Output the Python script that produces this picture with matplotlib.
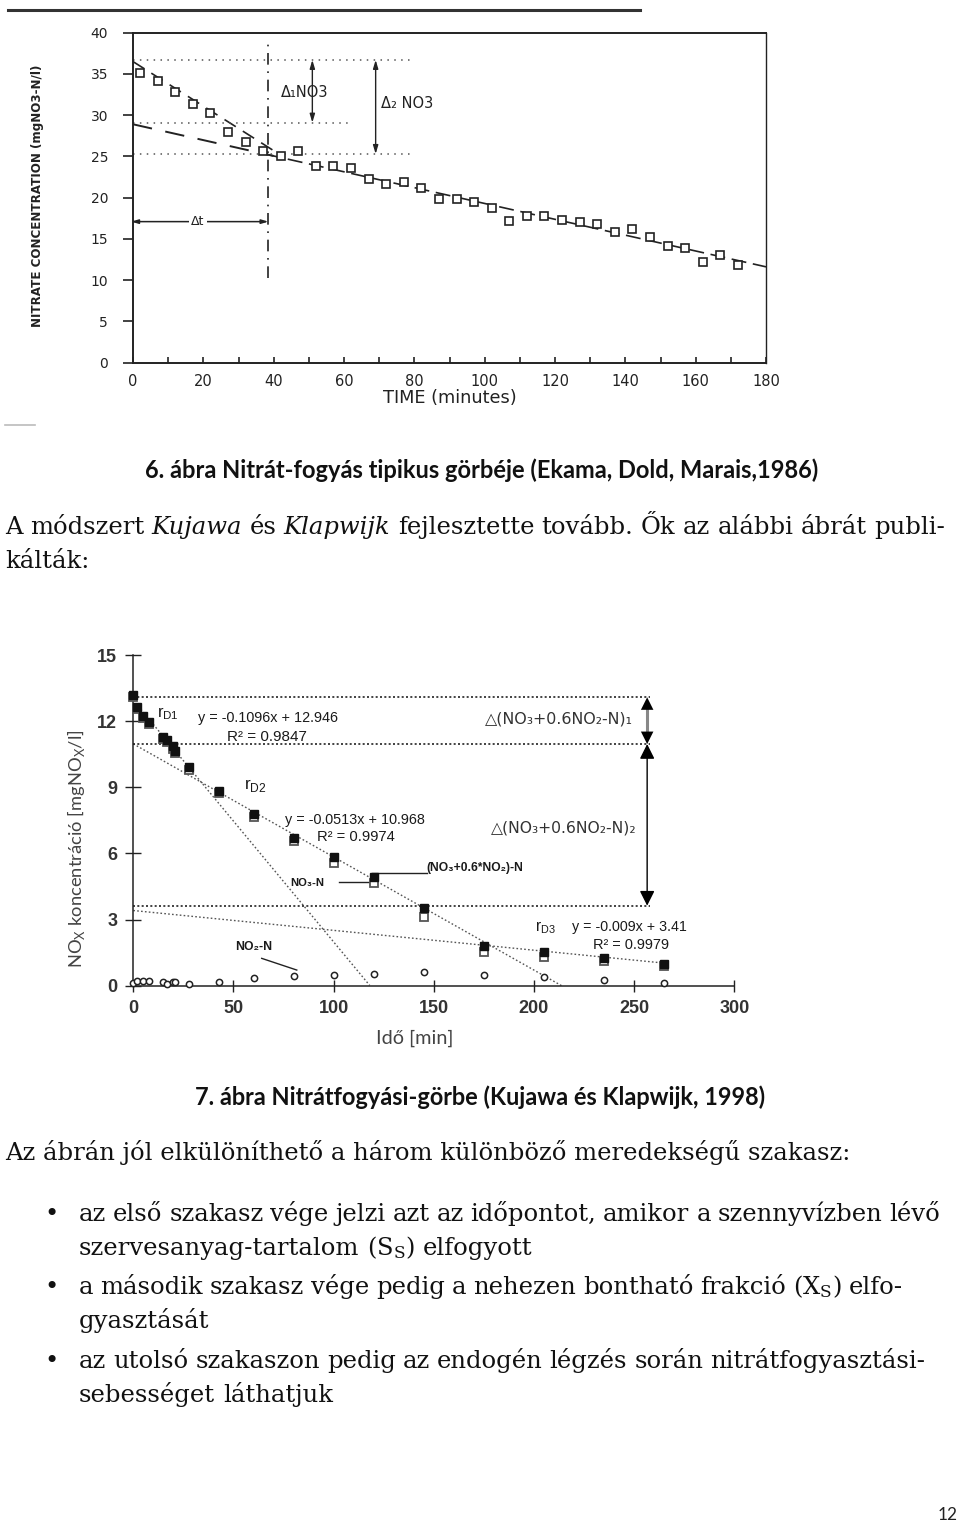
import matplotlib
matplotlib.use('Agg')
import matplotlib.pyplot as plt
import numpy as np
from matplotlib.lines import Line2D

# ---------------- data: figure 6 (Ekama, Dold, Marais 1986) ----------------
time6 = [2, 7, 12, 17, 22, 27, 32, 37, 42, 47, 52, 57, 62, 67, 72, 77, 82, 87, 92, 97,
         102, 107, 112, 117, 122, 127, 132, 137, 142, 147, 152, 157, 162, 167, 172]
nitrate6 = [35.1, 34.1, 32.8, 31.3, 30.3, 28.0, 26.8, 25.6, 25.1, 25.6, 23.9, 23.9, 23.6,
            22.3, 21.7, 21.9, 21.2, 19.8, 19.9, 19.5, 18.8, 17.2, 17.8, 17.8, 17.3, 17.0,
            16.8, 15.8, 16.2, 15.2, 14.2, 13.9, 12.2, 13.0, 11.8]
fit6_intercept = [36.5, 28.9]
fit6_slope = [-0.27, -0.096]
ref6_levels = [36.7, 29.1, 25.3]
ref6_ends = [79, 61, 79]
delta6_t = 38.5
yticks6 = [0, 5, 10, 15, 20, 25, 30, 35, 40]
xticks6 = [0, 20, 40, 60, 80, 100, 120, 140, 160, 180]

# ---------------- data: figure 7 (Kujawa & Klapwijk 1998) ----------------
time7 = [0, 2, 5, 8, 15, 17, 20, 21, 28, 43, 60, 80, 100, 120, 145, 175, 205, 235, 265]
nox7 = [13.2, 12.65, 12.25, 11.95, 11.3, 11.15, 10.85, 10.65, 9.9, 8.85, 7.8, 6.7, 5.82,
        4.95, 3.52, 1.8, 1.55, 1.25, 0.97]          # (NO3+0.6*NO2)-N
no3_7 = [13.1, 12.55, 12.15, 11.85, 11.2, 11.05, 10.75, 10.55, 9.8, 8.75, 7.65, 6.55, 5.55,
         4.64, 3.13, 1.54, 1.32, 1.1, 0.9]          # NO3-N
no2_7 = [0.14, 0.22, 0.22, 0.22, 0.18, 0.08, 0.17, 0.17, 0.08, 0.15, 0.36, 0.44, 0.48,
         0.53, 0.6, 0.48, 0.38, 0.26, 0.14]          # NO2-N
fit7_slope = [-0.1096, -0.0513, -0.009]
fit7_intercept = [12.946, 10.968, 3.41]
fit7_end = [118, 214, 265]
ref7_levels = [13.08, 10.96, 3.63]
yticks7 = [0, 3, 6, 9, 12, 15]
xticks7 = [0, 50, 100, 150, 200, 250, 300]

W, H = 960, 1524
fig = plt.figure(figsize=(W / 100, H / 100), dpi=100)
fig.patch.set_facecolor('white')
R = fig.canvas.get_renderer()
SERIF = 'DejaVu Serif'
SANS = ['Liberation Sans', 'DejaVu Sans']


def fx(x):
    return x / W


def fy(y):
    return 1 - y / H


def fit(x, y, s, length, base=10, **kw):
    kw.setdefault('ha', 'left')
    kw.setdefault('va', 'center')
    t = fig.text(fx(x), fy(y), s, fontsize=base, **kw)
    bb = t.get_window_extent(renderer=R)
    L = bb.height if kw.get('rotation', 0) == 90 else bb.width
    t.set_fontsize(base * length / L)
    return t


def axpos(x0, x1, ytop, ybot):
    return [fx(x0), fy(ybot), (x1 - x0) / W, (ybot - ytop) / H]


# ======================= FIGURE 6 =======================
ink = '#222222'
ax1 = fig.add_axes(axpos(133, 766, 32.7, 362.7))
ax1.set_xlim(0, 180)
ax1.set_ylim(0, 40)
for sp in ax1.spines.values():
    sp.set_color(ink)
    sp.set_linewidth(1.4)
ax1.spines['right'].set_linewidth(1.0)
ax1.spines['right'].set_linestyle((0, (4, 1)))
ax1.set_yticks(yticks6)
ax1.set_xticks(xticks6)
ax1.set_xticks([10, 30, 50, 70, 90, 110, 130, 150, 170], minor=True)
ax1.tick_params(axis='y', direction='out', length=7, width=1.2, pad=11,
                labelsize=10, colors=ink)
ax1.tick_params(axis='x', which='both', direction='in', length=4, width=1.2, pad=8,
                labelsize=10.5, colors=ink)

ax1.plot(time6, nitrate6, linestyle='none', marker='s', ms=5.5, mfc='white',
         mec=ink, mew=1.2, zorder=3)
xa = np.array([0, 42])
ax1.plot(xa, fit6_intercept[0] + fit6_slope[0] * xa, color=ink, lw=1.2,
         dashes=(8, 5), zorder=2)
xb = np.array([38, 180])
ax1.plot(xb, fit6_intercept[1] + fit6_slope[1] * xb, color=ink, lw=1.2,
         dashes=(9, 4), zorder=2)
xc = np.array([0, 40])
ax1.plot(xc, fit6_intercept[1] + fit6_slope[1] * xc, color=ink, lw=1.4,
         dashes=(10, 7), zorder=2)
for lev, end in zip(ref6_levels, ref6_ends):
    ax1.plot([0, end], [lev, lev], color='#555555', lw=1.1, dashes=(1, 3.5))
ax1.plot([delta6_t, delta6_t], [10.3, 38.8], color=ink, lw=1.2, dashes=(7, 4, 1, 4))
# delta arrows
ax1.annotate('', xy=(51, ref6_levels[1]), xytext=(51, ref6_levels[0]),
             arrowprops=dict(arrowstyle='<|-|>,head_length=0.5,head_width=0.15',
                             color=ink, lw=1.0, shrinkA=0, shrinkB=0))
ax1.annotate('', xy=(69, ref6_levels[2]), xytext=(69, ref6_levels[0]),
             arrowprops=dict(arrowstyle='<|-|>,head_length=0.5,head_width=0.15',
                             color=ink, lw=1.0, shrinkA=0, shrinkB=0))
ax1.annotate('', xy=(delta6_t, 17.1), xytext=(-0.5, 17.1),
             arrowprops=dict(arrowstyle='<|-|>,head_length=0.4,head_width=0.12',
                             color=ink, lw=1.1, shrinkA=0, shrinkB=0))
ax1.text(18.5, 17.1, 'Δt', ha='center', va='center', fontsize=9, color=ink,
         bbox=dict(facecolor='white', edgecolor='none', pad=1.5))
ax1.text(42, 32.8, 'Δ₁NO3', ha='left', va='center', fontsize=10.5, color=ink)
ax1.text(70.5, 31.4, 'Δ₂ NO3', ha='left', va='center', fontsize=10.5, color=ink)

fit(38, 196, 'NITRATE CONCENTRATION (mgNO3-N/l)', 262, base=9, rotation=90,
    ha='center', va='center', color=ink, family='DejaVu Sans', fontweight='bold')
fit(383, 398, 'TIME (minutes)', 134, base=9, color=ink, family='DejaVu Sans')

# page scan edges
fig.add_artist(Line2D([fx(8), fx(640)], [fy(10), fy(10)], color='#333333', lw=2.2))
fig.add_artist(Line2D([fx(5), fx(35)], [fy(425), fy(425)], color='#bbbbbb', lw=1.2))

# ======================= captions & body text =======================
fit(145, 470, '6. ábra Nitrát-fogyás tipikus görbéje (Ekama, Dold, Marais,1986)', 675,
    base=15, family='Lato', fontweight='bold', color='#111111')
fit(195, 1097, '7. ábra Nitrátfogyási-görbe (Kujawa és Klapwijk, 1998)', 573,
    base=15, family='Lato', fontweight='bold', color='#111111')

tb = fit(5, 1160, 'Az ábrán jól elkülöníthető a három különböző meredekségű szakasz:', 847,
         base=15, family=SERIF, va='baseline', color='#111111')
FS = tb.get_fontsize()


def measure(s, style='normal'):
    t = fig.text(0, 0, s, fontsize=FS, family=SERIF, fontstyle=style,
                 math_fontfamily='dejavuserif')
    w = t.get_window_extent(renderer=R).width
    t.remove()
    return w


SPACE = measure('n n') - measure('nn')


def words_line(x0, yb, segs, x1=None):
    words = []
    for s, st in segs:
        for w in s.split(' '):
            if w:
                words.append((w, st))
    arts, ws = [], []
    for w, st in words:
        t = fig.text(0, fy(yb), w, fontsize=FS, family=SERIF, fontstyle=st,
                     ha='left', va='baseline', color='#111111',
                     math_fontfamily='dejavuserif')
        arts.append(t)
        ws.append(t.get_window_extent(renderer=R).width)
    gap = SPACE if x1 is None else (x1 - x0 - sum(ws)) / (len(ws) - 1)
    x = x0
    for t, w in zip(arts, ws):
        t.set_x(fx(x))
        x += w + gap


words_line(5, 534, [('A módszert', 'normal'), ('Kujawa', 'italic'), ('és', 'normal'),
                    ('Klapwijk', 'italic'),
                    ('fejlesztette tovább. Ők az alábbi ábrát publi-', 'normal')], 945)
words_line(5, 568, [('kálták:', 'normal')])

bullet_lines = [
    (1221, 'az első szakasz vége jelzi azt az időpontot, amikor a szennyvízben lévő', 940, True),
    (1255, r'szervesanyag-tartalom (S$_\mathrm{S}$) elfogyott', None, False),
    (1294, r'a második szakasz vége pedig a nehezen bontható frakció (X$_\mathrm{S}$) elfo-', 903, True),
    (1328, 'gyasztását', None, False),
    (1368, 'az utolsó szakaszon pedig az endogén légzés során nitrátfogyasztási-', 925, True),
    (1402, 'sebességet láthatjuk', None, False),
]
for yb, s, x1, bul in bullet_lines:
    words_line(79, yb, [(s, 'normal')], x1)
    if bul:
        fig.text(fx(52), fy(yb), '•', fontsize=FS, family=SERIF, ha='center',
                 va='baseline', color='#111111')

fit(938, 1515, '12', 20, base=12, family='Lato', color='#222222')

# ======================= FIGURE 7 =======================
g = '#222222'
ax2 = fig.add_axes(axpos(133.3, 734.3, 655, 985.7))
ax2.set_xlim(0, 300)
ax2.set_ylim(0, 15)
ax2.spines['top'].set_visible(False)
ax2.spines['right'].set_visible(False)
for s in ('left', 'bottom'):
    ax2.spines[s].set_color(g)
    ax2.spines[s].set_linewidth(1.1)
ax2.set_xticks(xticks7)
ax2.set_yticks(yticks7)
ax2.tick_params(axis='y', direction='inout', length=11, width=1.0, pad=6,
                labelsize=13, colors=g)
ax2.tick_params(axis='x', direction='inout', length=9, width=1.0, pad=6,
                labelsize=13, colors=g)
for lab in ax2.get_xticklabels() + ax2.get_yticklabels():
    lab.set_family(SANS)
    lab.set_fontweight('bold')
    lab.set_color('#333333')

for sl, ic, end in zip(fit7_slope, fit7_intercept, fit7_end):
    xx = np.array([0, end])
    ax2.plot(xx, ic + sl * xx, color='#555555', lw=1.0, dashes=(1.2, 1.6), zorder=2)
for lev in ref7_levels:
    ax2.plot([0, 258], [lev, lev], color='#222222', lw=1.2, dashes=(1.2, 1.4), zorder=2)

ax2.plot(time7, no3_7, linestyle='none', marker='s', ms=6, mfc='white', mec='#555555',
         mew=1.3, zorder=3, clip_on=False)
ax2.plot(time7, nox7, linestyle='none', marker='s', ms=6, mfc='#111111', mec='#111111',
         mew=1.0, zorder=4, clip_on=False)
ax2.plot(time7, no2_7, linestyle='none', marker='o', ms=4.5, mfc='white', mec='#222222',
         mew=1.1, zorder=4, clip_on=False)

# level-difference arrows
ax2.plot([256.5, 256.5], [ref7_levels[0] - 0.3, ref7_levels[1] + 0.3], color='#888888',
         lw=2.2, zorder=3)
ax2.annotate('', xy=(256.5, ref7_levels[1]), xytext=(256.5, ref7_levels[0]),
             arrowprops=dict(arrowstyle='<|-|>,head_length=0.9,head_width=0.45',
                             color='black', lw=0.0, shrinkA=0, shrinkB=0), zorder=4)
ax2.annotate('', xy=(256.5, ref7_levels[2]), xytext=(256.5, ref7_levels[1]),
             arrowprops=dict(arrowstyle='<|-|>,head_length=0.9,head_width=0.45',
                             color='black', lw=1.0, shrinkA=0, shrinkB=0), zorder=4)
# leader lines
ax2.plot([119.3, 146.6], [5.11, 5.11], color='#222222', lw=1.0)
ax2.plot([102.8, 119.8], [4.72, 4.72], color='#222222', lw=1.0)
ax2.plot([64.1, 81.6], [1.24, 0.71], color='#222222', lw=1.0)

lab = dict(family=SANS, color='#1a1a1a')
fit(156.7, 714, r'r$_{\mathregular{D1}}$', 22, base=10, **lab)
fit(198.3, 718.3, 'y = -0.1096x + 12.946', 140, base=10, **lab)
fit(226.7, 736.7, 'R² = 0.9847', 80, base=10, **lab)
fit(244, 785.7, r'r$_{\mathregular{D2}}$', 23, base=10, **lab)
fit(285, 820, 'y = -0.0513x + 10.968', 140, base=10, **lab)
fit(316.7, 837.3, 'R² = 0.9974', 77, base=10, **lab)
fit(535, 927.3, r'r$_{\mathregular{D3}}$', 21, base=10, **lab)
fit(571.7, 927.3, 'y = -0.009x + 3.41', 115, base=10, **lab)
fit(592.7, 945, 'R² = 0.9979', 76, base=10, **lab)
fit(426.7, 868.3, '(NO₃+0.6*NO₂)-N', 97, base=8, fontweight='bold', **lab)
fit(290, 883.3, 'NO₃-N', 34, base=8, fontweight='bold', **lab)
fit(235, 947.3, 'NO₂-N', 37, base=8, fontweight='bold', **lab)
fit(485, 719.3, '△(NO₃+0.6NO₂-N)₁', 148, base=12, family=['DejaVu Sans'], color='#333333')
fit(490.7, 828.3, '△(NO₃+0.6NO₂-N)₂', 146, base=12, family=['DejaVu Sans'], color='#333333')

fit(76, 849, r'NO$_\mathregular{X}$ koncentráció [mgNO$_\mathregular{X}$/l]', 238, base=13,
    rotation=90, ha='center', va='center', family='Lato', color='#444444')
fit(376, 1038, 'Idő [min]', 77, base=13, family='Lato', color='#444444')

fig.savefig('out.png', dpi=100)
